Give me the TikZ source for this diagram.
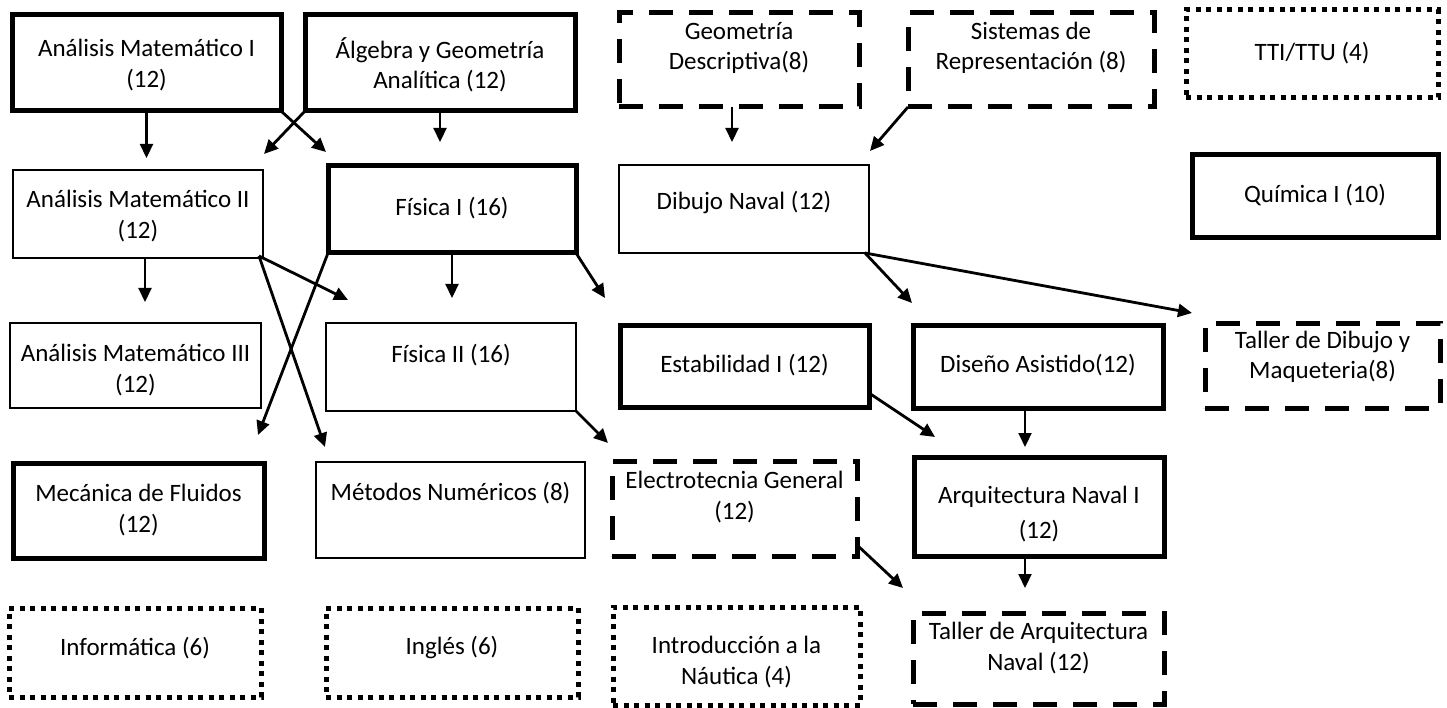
\documentclass[tikz,border=0pt]{standalone}
\usepackage{fontspec}
\setmainfont{Carlito}
\usetikzlibrary{arrows.meta,calc}
\begin{document}
\begin{tikzpicture}[x=1pt,y=-1pt,
  box/.style={rectangle,inner sep=0pt,outer sep=0pt},
  thickbox/.style={box,draw,line width=5pt},
  thinbox/.style={box,draw,line width=1.5pt},
  dashbox/.style={box,draw,line width=5pt,dash pattern=on 24pt off 16pt},
  dotbox/.style={box,draw,line width=5pt,dash pattern=on 5pt off 5.5pt},
  lbl/.style={inner sep=0pt,align=center,font=\fontsize{25}{30.5}\selectfont},
  arr/.style={line width=2.8pt,-{Triangle[length=14pt,width=13pt]}},
  arrthin/.style={line width=2.2pt,-{Triangle[length=14pt,width=13pt]}}]
\useasboundingbox (0,0) rectangle (1447,708);
% boxes
\node[thickbox,minimum width=269pt,minimum height=96pt] (ami) at (146.5,63) {};
\node[thickbox,minimum width=270pt,minimum height=96pt] (alg) at (440,63) {};
\node[dashbox,minimum width=240pt,minimum height=94pt] (geo) at (739,60) {};
\node[dashbox,minimum width=246pt,minimum height=94pt] (sis) at (1031,60) {};
\node[dotbox,minimum width=252pt,minimum height=88pt] (tti) at (1312,54) {};
\node[thinbox,minimum width=250pt,minimum height=88pt] (am2) at (138,214) {};
\node[thickbox,minimum width=248pt,minimum height=87pt] (f1) at (452,209.5) {};
\node[thinbox,minimum width=250pt,minimum height=88pt] (dib) at (744,209) {};
\node[thickbox,minimum width=246pt,minimum height=83pt] (qui) at (1315,196.5) {};
\node[thinbox,minimum width=251pt,minimum height=85pt] (am3) at (135.5,365.5) {};
\node[thinbox,minimum width=250pt,minimum height=88pt] (f2) at (451,367) {};
\node[thickbox,minimum width=249pt,minimum height=82pt] (est) at (744.5,366) {};
\node[thickbox,minimum width=250pt,minimum height=83pt] (dis) at (1038,366.5) {};
\node[dashbox,minimum width=235pt,minimum height=85pt] (tdm) at (1322.5,365.5) {};
\node[thickbox,minimum width=251pt,minimum height=95pt] (mec) at (138.5,510.5) {};
\node[thinbox,minimum width=269pt,minimum height=96pt] (met) at (450.5,510) {};
\node[dashbox,minimum width=245pt,minimum height=95pt] (ele) at (734.5,508.5) {};
\node[thickbox,minimum width=250pt,minimum height=99pt] (arq) at (1039,506.5) {};
\node[dotbox,minimum width=252pt,minimum height=89pt] (inf) at (135,652.5) {};
\node[dotbox,minimum width=252pt,minimum height=89pt] (ing) at (452,652.5) {};
\node[dotbox,minimum width=247pt,minimum height=98pt] (intro) at (736.5,656) {};
\node[dashbox,minimum width=251pt,minimum height=91pt] (tar) at (1038.5,658.5) {};
% labels
\node[lbl] (t-ami) at (146.5,65) {Análisis Matemático I\\(12)};
\node[lbl] (t-alg) at (440,65) {Álgebra y Geometría\\Analítica (12)};
\node[lbl] (t-geo) at (739,48) {Geometría\\Descriptiva(8)};
\node[lbl] (t-sis) at (1031,48) {Sistemas de\\Representación (8)};
\node[lbl] (t-tti) at (1312,53) {TTI/TTU (4)};
\node[lbl] (t-am2) at (138,216) {Análisis Matemático II\\(12)};
\node[lbl] (t-f1) at (452,208) {Física I (16)};
\node[lbl] (t-dib) at (744,203) {Dibujo Naval (12)};
\node[lbl] (t-qui) at (1315,195) {Química I (10)};
\node[lbl] (t-am3) at (135.5,370) {Análisis Matemático III\\(12)};
\node[lbl] (t-f2) at (451,355) {Física II (16)};
\node[lbl] (t-est) at (744.5,365) {Estabilidad I (12)};
\node[lbl] (t-dis) at (1038,365) {Diseño Asistido(12)};
\node[lbl] (t-tdm) at (1322.5,357) {Taller de Dibujo y\\Maqueteria(8)};
\node[lbl] (t-mec) at (138.5,510) {Mecánica de Fluidos\\(12)};
\node[lbl] (t-met) at (450.5,493) {Métodos Numéricos (8)};
\node[lbl] (t-ele) at (734.5,497) {Electrotecnia General\\(12)};
\node[lbl] (t-arq) at (1039,514) {Arquitectura Naval I\\[5pt](12)};
\node[lbl] (t-inf) at (135,648) {Informática (6)};
\node[lbl] (t-ing) at (452,648) {Inglés (6)};
\node[lbl] (t-intro) at (736.5,662) {Introducción a la\\Náutica (4)};
\node[lbl] (t-tar) at (1038.5,648) {Taller de Arquitectura\\Naval (12)};
% connectors
\draw[arrthin] (ami.south) -- ($(ami.south |- am2.north)+(0,-12)$);
\draw[arr] (ami.south east) -- ($(f1.north west)+(-2,-14)$);
\draw[arr] (alg.south west) -- ($(am2.north east)+(1,-16)$);
\draw[arrthin] (alg.south) -- ($(alg.south |- f1.north)+(0,-24)$);
\draw[arrthin] ($(am2.south)+(7,0)$) -- ($(am2.south |- am3.north)+(7,-21)$);
\draw[arr] ($(am2.south east)+(-4,-2)$) -- ($(f2.north west)+(22,-23)$);
\draw[arr] ($(am2.south east)+(-4,-2)$) -- ($(met.north west)+(9,-15)$);
\draw[arr] (f1.south west) -- ($(mec.north east)+(-6,-28)$);
\draw[arrthin] (f1.south) -- ($(f1.south |- f2.north)+(0,-25)$);
\draw[arr] (f1.south east) -- ($(est.north west)+(-15,-27)$);
\draw[arr] (f2.south east) -- ($(ele.north west)+(-4,-18)$);
\draw[arrthin] ($(geo.south)+(-7,0)$) -- ($(geo.south |- dib.north)+(-7,-23)$);
\draw[arr] (sis.south west) -- ($(dib.north east)+(1,-14)$);
\draw[arr] ($(dib.south east)+(-4,0)$) -- ($(dis.north west)+(-1,-22)$);
\draw[arr] ($(dib.south east)+(-4,0)$) -- ($(tdm.north west)+(-13,-10)$);
\draw[arr] ($(est.south east)+(0,-14)$) -- ($(arq.north west)+(21,-20)$);
\draw[arrthin] ($(dis.south)+(-13,0)$) -- ($(dis.south |- arq.north)+(-13,-10)$);
\draw[arr] ($(ele.south east)+(0,-11)$) -- ($(tar.north west)+(-10,-25)$);
\draw[arrthin] ($(arq.south)+(-14,0)$) -- ($(arq.south |- tar.north)+(-14,-25)$);
\end{tikzpicture}
\end{document}
